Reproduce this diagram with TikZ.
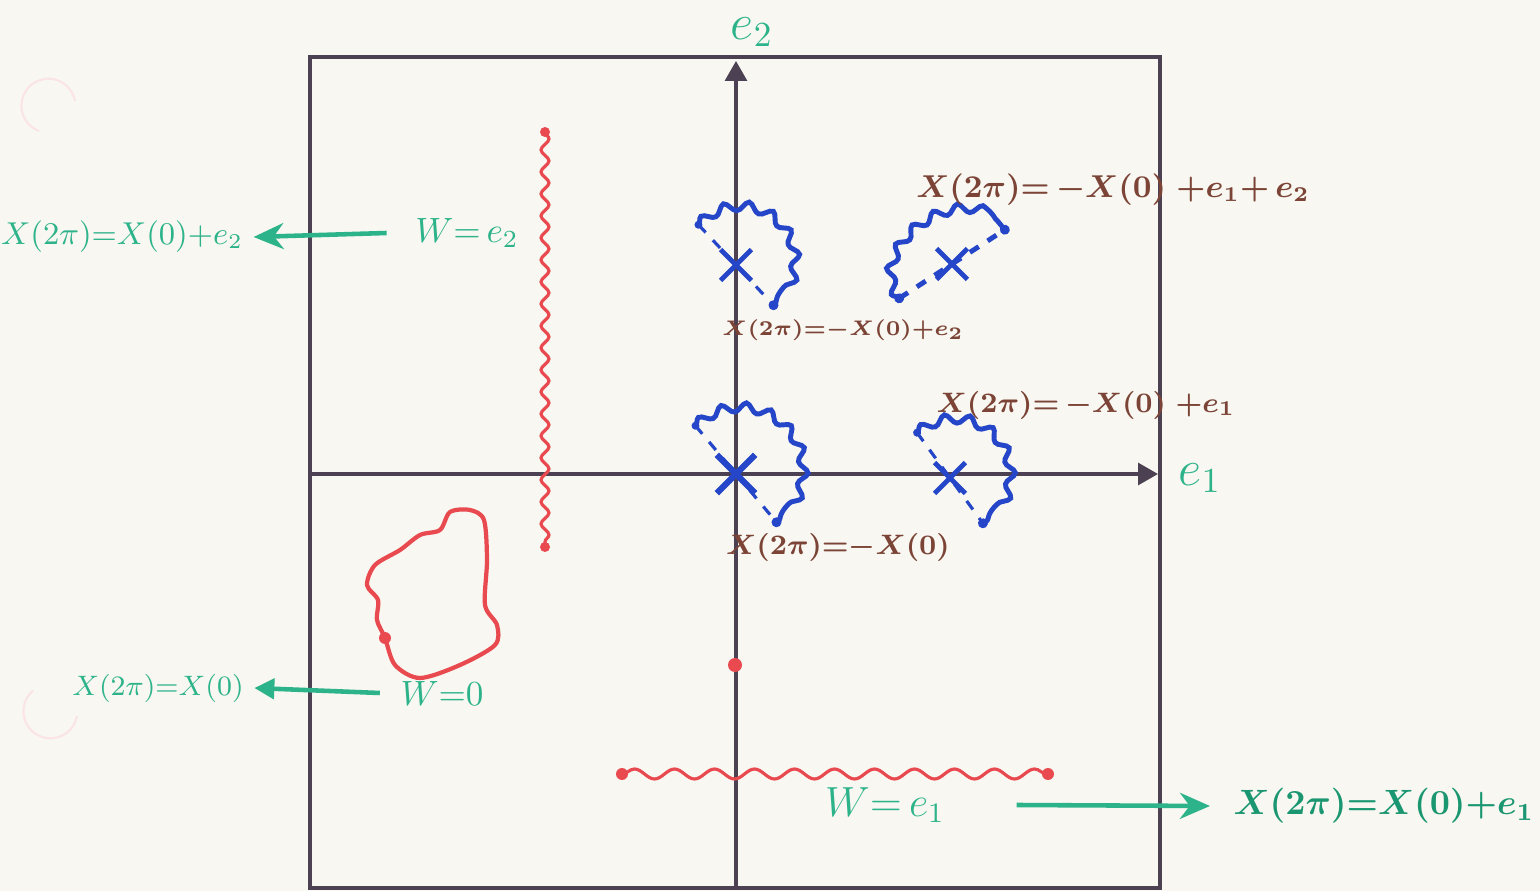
\documentclass[tikz,border=0pt]{standalone}
\usepackage{amsmath,amssymb}
\usetikzlibrary{arrows.meta,decorations.pathmorphing,shapes.misc}

\definecolor{paper}{HTML}{F8F7F1}
\definecolor{frame}{HTML}{4B4152}
\definecolor{penred}{HTML}{E84A50}
\definecolor{penblue}{HTML}{2546C8}
\definecolor{pengreen}{HTML}{2DB38A}
\definecolor{darkgreen}{HTML}{1A9670}
\definecolor{penbrown}{HTML}{7B4436}

\tikzset{
  wave/.style={decorate, decoration={snake, amplitude=0.45mm, segment length=2.4mm}},
  fan/.style={penblue, line width=1.4pt, wave},
  chord/.style={penblue, line width=0.9pt, dashed},
  crossmark/.style={cross out, draw=penblue, line width=1.4pt, minimum size=0.26cm, inner sep=0pt},
  brownlbl/.style={penbrown, inner sep=0pt, font=\fontsize{#1}{#1}\selectfont\boldmath},
  greenlbl/.style={pengreen, inner sep=0pt, font=\fontsize{#1}{#1}\selectfont},
  greenarrow/.style={pengreen, line width=1.3pt, -{Stealth[length=3mm,width=2.6mm]}},
}

\begin{document}
\begin{tikzpicture}
\fill [paper] (0,0) rectangle (15.4,8.91);
\useasboundingbox (0,0) rectangle (15.4,8.91);
% hole punches
\draw [penred!15, line width=0.6pt] (0.75,7.90) arc[start angle=10, end angle=250, radius=0.27];
\draw [penred!15, line width=0.6pt] (0.77,1.75) arc[start angle=-10, end angle=-230, radius=0.27];
% frame and axes
\draw [frame, line width=0.9pt] (3.10,0.03) rectangle (11.60,8.34);
\draw [frame, line width=0.9pt, -{Triangle[length=2mm,width=2.2mm]}] (7.36,0.03) -- (7.36,8.30);
\draw [frame, line width=0.9pt, -{Triangle[length=2mm,width=2.2mm]}] (3.10,4.17) -- (11.58,4.17);
\node [pengreen, font=\Large] (e2) at (7.52,8.59) {$e_2$};
\node [pengreen, font=\Large] (e1) at (12.00,4.13) {$e_1$};

% red loops
\coordinate (vtop) at (5.45,7.59);
\coordinate (vbot) at (5.45,3.44);
\draw [penred, line width=0.9pt, wave, decoration={segment length=2.2mm, amplitude=0.4mm}] (vtop) -- (vbot);
\fill [penred] (vtop) circle (0.05) (vbot) circle (0.05);
\coordinate (hleft) at (6.22,1.17);
\coordinate (hright) at (10.48,1.17);
\draw [penred, line width=0.9pt, wave, decoration={segment length=4mm, amplitude=0.5mm}] (hleft) -- (hright);
\fill [penred] (hleft) circle (0.06) (hright) circle (0.06);
\fill [penred] (7.35,2.26) circle (0.07);
\draw [penred, line width=1.2pt] plot[smooth cycle] coordinates {(3.85,2.53) (3.95,2.26) (4.20,2.13) (4.60,2.26) (4.95,2.46) (4.97,2.66) (4.85,2.86) (4.87,3.31) (4.84,3.71) (4.70,3.81) (4.50,3.79) (4.40,3.61) (4.20,3.56) (4.00,3.41) (3.75,3.26) (3.67,3.06) (3.78,2.91) (3.77,2.71)};
\fill [penred] (3.85,2.53) circle (0.06);

% blue half loops
\begin{scope}[shift={(7.36,4.17)}, rotate=-50]
\draw [fan] (-0.63,0) arc[start angle=180, end angle=0, radius=0.63];
\draw [chord] (-0.63,0) -- (0.63,0);
\fill [penblue] (-0.63,0) circle (0.04) (0.63,0) circle (0.05);
\end{scope}
\begin{scope}[shift={(9.50,4.13)}, rotate=-54]
\draw [fan] (-0.56,0) arc[start angle=180, end angle=0, radius=0.56];
\draw [chord] (-0.56,0) -- (0.56,0);
\fill [penblue] (-0.56,0) circle (0.04) (0.56,0) circle (0.05);
\end{scope}
\begin{scope}[shift={(7.36,6.26)}, rotate=-47]
\draw [fan] (-0.55,0) arc[start angle=180, end angle=0, radius=0.55];
\draw [chord] (-0.55,0) -- (0.55,0);
\fill [penblue] (-0.55,0) circle (0.04) (0.55,0) circle (0.05);
\end{scope}
\begin{scope}[shift={(9.52,6.27)}, rotate=33]
\draw [fan] (-0.63,0) arc[start angle=180, end angle=0, x radius=0.63, y radius=0.45];
\draw [chord, line width=1.4pt] (-0.63,0) -- (0.63,0);
\fill [penblue] (-0.63,0) circle (0.05) (0.63,0) circle (0.05);
\end{scope}
\node [crossmark, minimum size=0.32cm, line width=1.8pt] (xA) at (7.36,4.17) {};
\node [crossmark] (xB) at (9.50,4.13) {};
\node [crossmark] (xC) at (7.36,6.26) {};
\node [crossmark] (xD) at (9.52,6.27) {};

% brown labels
\node [brownlbl=9.2] (lblD) at (11.13,7.01) {$X(2\pi){=}\,{-}X(0)\;{+}e_1{+}\,e_2$};
\node [brownlbl=6.4] (lblC) at (8.43,5.61) {$X(2\pi){=}{-}X(0){+}e_2$};
\node [brownlbl=8.4] (lblB) at (10.86,4.86) {$X(2\pi){=}\,{-}X(0)\;{+}e_1$};
\node [brownlbl=7.7] (lblA) at (8.38,3.44) {$X(2\pi){=}{-}X(0)$};

% green labels and arrows
\node [greenlbl=10] (w2) at (4.67,6.58) {$W{=}\,e_2$};
\node [greenlbl=9.1] (res2) at (1.22,6.54) {$X(2\pi){=}X(0){+}e_2$};
\draw [greenarrow] ([xshift=-0.28cm]w2.west) -- ([xshift=0.1cm]res2.east);
\node [greenlbl=10] (w0) at (4.42,1.98) {$W{=}0$};
\node [greenlbl=8] (res0) at (1.58,2.03) {$X(2\pi){=}X(0)$};
\draw [greenarrow, -{Triangle[length=2mm,width=2mm]}] ([xshift=-0.2cm]w0.west) -- ([xshift=0.1cm]res0.east);
\node [greenlbl=11.5] (w1) at (8.85,0.86) {$W{=}\,e_1$};
\node [greenlbl=10, darkgreen, font=\fontsize{10.2}{11}\selectfont\boldmath, anchor=east] (res1) at (15.35,0.85) {$X(2\pi){=}X(0){+}e_1$};
\draw [greenarrow] ([xshift=0.71cm]w1.east) -- ([xshift=-0.23cm]res1.west);
\end{tikzpicture}
\end{document}
